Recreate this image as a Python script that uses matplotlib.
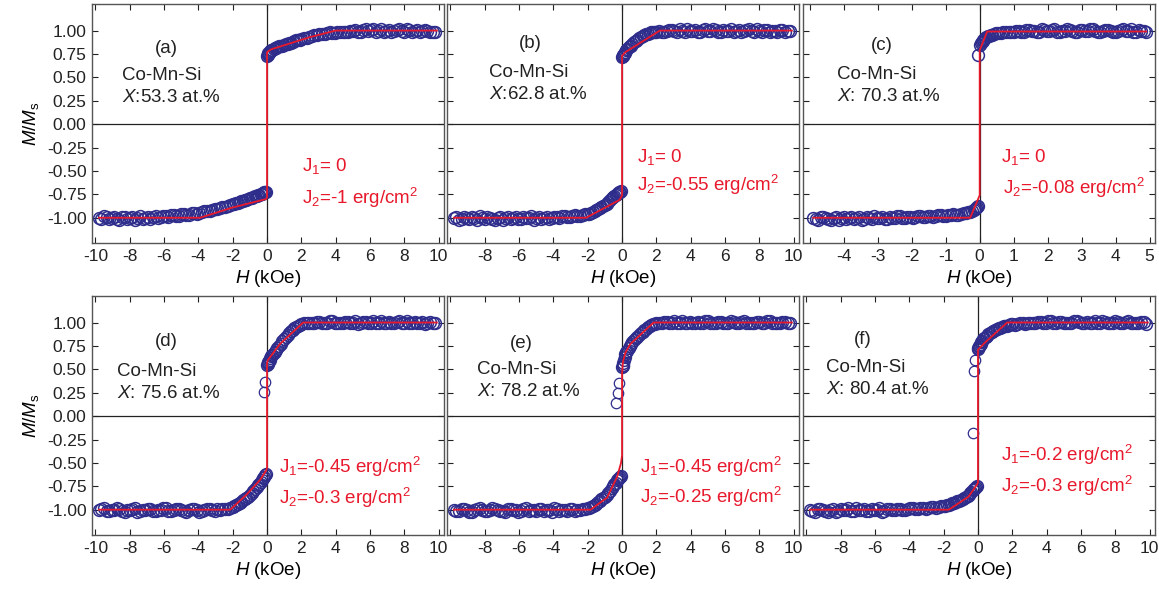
import matplotlib
matplotlib.use("Agg")
import matplotlib.pyplot as plt

plt.rcParams["font.family"] = ["Liberation Sans", "DejaVu Sans"]
plt.rcParams["mathtext.fontset"] = "custom"
plt.rcParams["mathtext.rm"] = "Liberation Sans"
plt.rcParams["mathtext.it"] = "Liberation Sans:italic"

DATA_COLOR = "#2E2D8C"
FIT_COLOR = "#E8192C"

# field points (kOe) of the +/-10 kOe scans, first and second pass
H_NEG = [-9.8, -9.5, -9.2, -8.9, -8.6, -8.3, -8.0, -7.7, -7.4, -7.1, -6.8, -6.5, -6.2,
         -5.9, -5.6, -5.3, -5.0, -4.7, -4.4, -4.1, -3.8, -3.5, -3.2, -2.9, -2.6, -2.3,
         -2.0, -1.8, -1.6, -1.4, -1.2, -1.0, -0.8, -0.6, -0.45, -0.3, -0.15, -0.05]
H_POS = [0.0, 0.05, 0.1, 0.2, 0.3, 0.45, 0.6, 0.8, 1.0, 1.2, 1.4, 1.6, 1.8, 2.0,
         2.3, 2.6, 2.9, 3.2, 3.5, 3.8, 4.1, 4.4, 4.7, 5.0, 5.3, 5.6, 5.9, 6.2, 6.5,
         6.8, 7.1, 7.4, 7.7, 8.0, 8.3, 8.6, 8.9, 9.2, 9.5, 9.8]
H_NEG2 = [-9.65, -9.35, -9.05, -8.75, -8.45, -8.15, -7.85, -7.55, -7.25, -6.95, -6.65,
          -6.35, -6.05, -5.75, -5.45, -5.15, -4.85, -4.55, -4.25, -3.95, -3.65, -3.35,
          -3.05, -2.75, -2.45, -2.15, -1.9, -1.7, -1.5, -1.3, -1.1, -0.9, -0.7, -0.52,
          -0.38, -0.22, -0.1]
H_POS2 = [0.03, 0.08, 0.15, 0.25, 0.38, 0.52, 0.7, 0.9, 1.1, 1.3, 1.5, 1.7, 1.9,
          2.15, 2.45, 2.75, 3.05, 3.35, 3.65, 3.95, 4.25, 4.55, 4.85, 5.15, 5.45, 5.75,
          6.05, 6.35, 6.65, 6.95, 7.25, 7.55, 7.85, 8.15, 8.45, 8.75, 9.05, 9.35, 9.65]

# field points (kOe) of the +/-5 kOe scan
HC_NEG = [-4.9, -4.75, -4.6, -4.45, -4.3, -4.15, -4.0, -3.85, -3.7, -3.55, -3.4, -3.25,
          -3.1, -2.95, -2.8, -2.65, -2.5, -2.35, -2.2, -2.05, -1.9, -1.75, -1.6, -1.45,
          -1.3, -1.15, -1.0, -0.85, -0.7, -0.55, -0.4, -0.28, -0.18, -0.1, -0.04]
HC_POS = [-0.06, 0.02, 0.06, 0.11, 0.17, 0.24, 0.32, 0.42, 0.55, 0.7, 0.85,
          1.0, 1.15, 1.3, 1.45, 1.6, 1.75, 1.9, 2.05, 2.2, 2.35, 2.5, 2.65, 2.8, 2.95,
          3.1, 3.25, 3.4, 3.55, 3.7, 3.85, 4.0, 4.15, 4.3, 4.45, 4.6, 4.75, 4.9]
HC_NEG2 = [-4.825, -4.675, -4.525, -4.375, -4.225, -4.075, -3.925, -3.775, -3.625,
           -3.475, -3.325, -3.175, -3.025, -2.875, -2.725, -2.575, -2.425, -2.275,
           -2.125, -1.975, -1.825, -1.675, -1.525, -1.375, -1.225, -1.075, -0.925,
           -0.775, -0.625, -0.475, -0.34, -0.23, -0.14, -0.07]
HC_POS2 = [0.04, 0.085, 0.14, 0.2, 0.28, 0.37, 0.48, 0.62, 0.78, 0.92,
           1.075, 1.225, 1.375, 1.525, 1.675, 1.825, 1.975, 2.125, 2.275, 2.425, 2.575,
           2.725, 2.875, 3.025, 3.175, 3.325, 3.475, 3.625, 3.775, 3.925, 4.075, 4.225,
           4.375, 4.525, 4.675, 4.825]

# (a) X = 53.3 at.%
A_NEG = [-1.00, -0.98, -1.01, -0.99, -1.02, -0.99, -1.00, -1.02, -0.98, -1.00, -1.01,
         -0.98, -0.99, -0.98, -0.97, -0.98, -0.96, -0.97, -0.95, -0.96, -0.94, -0.93,
         -0.92, -0.91, -0.89, -0.87, -0.85, -0.84, -0.83, -0.82, -0.81, -0.79, -0.78,
         -0.77, -0.76, -0.75, -0.73, -0.72]
A_POS = [0.73, 0.75, 0.76, 0.78, 0.79, 0.81, 0.82, 0.83, 0.85, 0.86, 0.87, 0.89, 0.90,
         0.91, 0.92, 0.94, 0.95, 0.96, 0.97, 0.97, 0.98, 0.98, 0.99, 1.00, 0.99, 1.01,
         1.00, 1.02, 1.00, 0.99, 1.01, 1.00, 1.02, 0.99, 1.01, 1.00, 0.99, 1.01, 0.99,
         0.98]
A_NEG2 = [-1.01, -0.99, -1.00, -1.01, -0.99, -1.01, -0.99, -1.00, -1.01, -0.99, -0.99,
          -1.00, -0.98, -0.99, -0.97, -0.98, -0.96, -0.97, -0.95, -0.95, -0.93, -0.93,
          -0.91, -0.90, -0.88, -0.86, -0.85, -0.84, -0.82, -0.81, -0.80, -0.79, -0.77,
          -0.76, -0.75, -0.74, -0.73]
A_POS2 = [0.74, 0.76, 0.77, 0.79, 0.80, 0.81, 0.83, 0.84, 0.86, 0.87, 0.88, 0.90, 0.90,
          0.92, 0.93, 0.95, 0.96, 0.96, 0.98, 0.97, 0.99, 0.98, 1.00, 1.01, 0.99, 1.02,
          1.01, 0.99, 1.02, 1.00, 0.99, 1.01, 1.00, 1.02, 0.99, 1.01, 1.00, 1.00, 0.99]
A_FIT_H = [-9.8, -3.9, -2.0, -0.05, 0.0, 0.0, 0.25, 2.5, 4.0, 9.9]
A_FIT_M = [-1.0, -1.0, -0.89, -0.80, -0.78, 0.77, 0.80, 0.93, 1.0, 1.0]

# (b) X = 62.8 at.%
B_NEG = [-1.00, -1.02, -0.99, -1.01, -1.00, -0.98, -1.01, -1.00, -1.02, -0.99, -1.00,
         -1.01, -0.99, -1.01, -1.00, -0.98, -1.00, -1.01, -0.99, -1.00, -0.99, -0.98,
         -0.99, -0.98, -0.98, -0.97, -0.96, -0.95, -0.93, -0.91, -0.89, -0.86, -0.83,
         -0.79, -0.77, -0.75, -0.73, -0.71]
B_POS = [0.72, 0.73, 0.75, 0.77, 0.80, 0.83, 0.86, 0.89, 0.92, 0.94, 0.96, 0.97, 0.98,
         0.99, 0.99, 1.00, 1.01, 0.99, 1.00, 1.02, 1.00, 0.99, 1.01, 1.00, 1.02, 0.99,
         1.01, 1.00, 0.99, 1.01, 1.00, 1.02, 0.99, 1.00, 1.01, 0.99, 1.00, 1.01, 0.99,
         1.00]
B_NEG2 = [-0.99, -1.01, -1.00, -0.99, -1.02, -1.00, -0.99, -1.01, -1.00, -1.02, -0.99,
          -1.00, -1.01, -0.99, -1.00, -1.02, -0.99, -1.00, -1.01, -0.99, -1.00, -0.98,
          -0.99, -0.97, -0.98, -0.96, -0.96, -0.94, -0.92, -0.90, -0.87, -0.85, -0.81,
          -0.78, -0.76, -0.74, -0.72]
B_POS2 = [0.73, 0.74, 0.76, 0.79, 0.82, 0.84, 0.88, 0.90, 0.93, 0.95, 0.96, 0.98, 0.98,
          1.00, 0.99, 1.01, 1.00, 1.02, 0.99, 1.00, 1.01, 0.99, 1.02, 1.00, 1.01, 0.99,
          1.00, 1.02, 1.00, 0.99, 1.01, 1.00, 1.02, 0.99, 1.01, 1.00, 0.99, 1.01, 1.00]
B_FIT_H = [-9.8, -2.1, -0.15, 0.0, 0.0, 0.2, 2.2, 9.9]
B_FIT_M = [-1.0, -1.0, -0.81, -0.76, 0.73, 0.77, 1.0, 1.0]

# (c) X = 70.3 at.%
C_NEG = [-1.00, -1.02, -0.99, -1.01, -1.00, -1.02, -0.99, -1.00, -1.01, -0.99, -1.01,
         -1.00, -0.98, -1.00, -1.01, -0.99, -1.00, -0.98, -1.00, -0.99, -0.99, -0.98,
         -0.99, -0.98, -0.98, -0.97, -0.98, -0.97, -0.97, -0.96, -0.95, -0.94, -0.92,
         -0.90, -0.87]
C_POS = [0.74, 0.85, 0.88, 0.90, 0.92, 0.94, 0.95, 0.96, 0.97, 0.98, 0.98, 0.99, 1.00,
         0.99, 1.01, 1.00, 0.99, 1.01, 1.00, 1.02, 0.99, 1.00, 1.01, 0.99, 1.01, 1.00,
         1.02, 1.00, 0.99, 1.01, 1.00, 0.99, 1.01, 1.00, 1.02, 0.99, 1.00, 0.99]
C_NEG2 = [-1.01, -0.99, -1.00, -1.02, -0.99, -1.00, -1.01, -0.99, -1.00, -1.02, -0.99,
          -1.01, -1.00, -0.99, -1.01, -1.00, -0.98, -1.00, -0.99, -1.00, -0.98, -0.99,
          -0.98, -0.99, -0.97, -0.98, -0.97, -0.96, -0.97, -0.95, -0.94, -0.93, -0.91,
          -0.89]
C_POS2 = [0.87, 0.89, 0.91, 0.93, 0.94, 0.95, 0.97, 0.97, 0.98, 0.99, 1.00, 0.99, 1.01,
          1.00, 0.99, 1.02, 1.00, 1.01, 0.99, 1.00, 1.02, 1.00, 0.99, 1.01, 1.00, 1.02,
          0.99, 1.00, 1.01, 0.99, 1.00, 1.02, 1.00, 0.99, 1.01, 1.00]
C_FIT_H = [-4.9, -0.28, 0.0, 0.0, 0.22, 4.9]
C_FIT_M = [-1.0, -1.0, -0.76, 0.79, 0.99, 0.99]

# (d) X = 75.6 at.%
D_NEG = [-1.00, -0.98, -1.01, -1.00, -0.99, -1.02, -1.00, -0.98, -1.01, -1.00, -0.99,
         -1.01, -1.00, -0.98, -1.01, -0.99, -1.00, -1.02, -0.99, -1.00, -1.01, -0.99,
         -1.00, -0.99, -0.99, -0.99, -0.97, -0.95, -0.93, -0.90, -0.87, -0.84, -0.80,
         -0.76, -0.72, -0.68, -0.65, -0.62]
D_POS = [0.55, 0.57, 0.59, 0.62, 0.65, 0.69, 0.73, 0.77, 0.82, 0.87, 0.91, 0.94, 0.96,
         0.98, 0.99, 1.00, 1.01, 0.99, 1.00, 1.02, 1.00, 0.99, 1.01, 1.00, 0.98, 1.01,
         1.00, 1.02, 0.99, 1.00, 1.01, 0.99, 1.02, 1.00, 0.99, 1.01, 1.00, 0.98, 1.01,
         0.99]
D_NEG2 = [-0.99, -1.01, -1.00, -0.98, -1.01, -1.00, -0.99, -1.02, -1.00, -0.99, -1.01,
          -1.00, -0.98, -1.01, -1.00, -0.99, -1.01, -1.00, -0.99, -1.02, -1.00, -0.99,
          -1.01, -1.00, -0.99, -0.98, -0.96, -0.94, -0.92, -0.89, -0.86, -0.82, -0.78,
          -0.74, -0.70, -0.66, -0.63]
D_POS2 = [0.56, 0.58, 0.60, 0.64, 0.67, 0.71, 0.75, 0.80, 0.85, 0.89, 0.92, 0.95, 0.97,
          0.99, 1.00, 0.99, 1.01, 1.00, 1.02, 0.99, 1.00, 1.01, 0.99, 1.02, 1.00, 1.01,
          0.99, 1.00, 1.02, 1.00, 0.99, 1.01, 1.00, 1.02, 0.99, 1.00, 1.01, 0.99, 1.00]
D_OUT_H = [-0.12, -0.2]
D_OUT_M = [0.36, 0.26]
D_FIT_H = [-9.8, -2.15, -1.2, -0.4, -0.05, 0.0, 0.0, 0.05, 0.75, 2.1, 9.9]
D_FIT_M = [-1.0, -1.0, -0.84, -0.68, -0.58, -0.55, 0.57, 0.60, 0.77, 1.0, 1.0]

# (e) X = 78.2 at.%
E_NEG = [-1.00, -1.01, -0.99, -1.02, -1.00, -0.98, -1.01, -1.00, -0.99, -1.01, -1.02,
         -0.99, -1.00, -1.01, -0.98, -1.00, -1.01, -0.99, -1.00, -1.02, -0.99, -1.00,
         -1.01, -0.99, -1.00, -0.99, -0.98, -0.97, -0.95, -0.92, -0.89, -0.86, -0.82,
         -0.77, -0.73, -0.68, -0.66, -0.64]
E_POS = [0.52, 0.55, 0.60, 0.66, 0.70, 0.75, 0.79, 0.83, 0.87, 0.90, 0.93, 0.96, 0.98,
         0.99, 1.00, 1.01, 0.99, 1.00, 1.02, 1.00, 0.99, 1.01, 1.00, 1.02, 0.99, 1.01,
         1.00, 0.99, 1.01, 1.00, 1.02, 0.99, 1.00, 1.01, 0.99, 1.02, 1.00, 0.99, 1.01,
         1.00]
E_NEG2 = [-1.01, -0.99, -1.00, -1.02, -0.99, -1.00, -1.01, -0.98, -1.00, -1.01, -0.99,
          -1.00, -1.02, -0.99, -1.01, -1.00, -0.99, -1.01, -1.00, -0.98, -1.01, -1.00,
          -0.99, -1.01, -1.00, -0.99, -0.98, -0.96, -0.94, -0.91, -0.88, -0.84, -0.80,
          -0.75, -0.71, -0.67, -0.65]
E_POS2 = [0.54, 0.57, 0.63, 0.68, 0.73, 0.77, 0.81, 0.85, 0.89, 0.92, 0.95, 0.97, 0.98,
          0.99, 1.01, 1.00, 1.02, 0.99, 1.00, 1.01, 0.99, 1.00, 1.02, 1.00, 0.99, 1.01,
          1.00, 1.02, 0.99, 1.01, 1.00, 0.99, 1.01, 1.00, 1.02, 1.00, 0.99, 1.01, 1.00]
E_OUT_H = [-0.33, -0.25, -0.18]
E_OUT_M = [0.14, 0.25, 0.35]
E_FIT_H = [-9.8, -1.84, -0.87, -0.29, -0.06, 0.0, 0.0, 0.05, 0.2, 0.48, 1.84, 9.9]
E_FIT_M = [-1.0, -1.0, -0.87, -0.65, -0.50, -0.42, 0.45, 0.58, 0.68, 0.77, 1.0, 1.0]

# (f) X = 80.4 at.%
F_NEG = [-1.00, -1.02, -0.99, -1.01, -1.00, -1.02, -0.99, -1.00, -1.01, -0.98, -1.00,
         -1.01, -0.99, -1.00, -1.02, -0.99, -1.00, -0.99, -1.00, -0.99, -0.98, -0.99,
         -0.98, -0.98, -0.97, -0.97, -0.96, -0.95, -0.94, -0.93, -0.91, -0.90, -0.88,
         -0.85, -0.82, -0.79, -0.77, -0.75]
F_POS = [0.72, 0.74, 0.76, 0.79, 0.82, 0.85, 0.88, 0.90, 0.92, 0.94, 0.95, 0.96, 0.97,
         0.98, 0.98, 0.99, 0.99, 1.00, 1.01, 0.99, 1.02, 1.00, 1.01, 0.99, 1.00, 1.02,
         1.01, 0.99, 1.00, 1.02, 1.00, 1.01, 0.99, 1.02, 1.00, 1.01, 0.99, 1.00, 1.01,
         0.98]
F_NEG2 = [-1.01, -0.99, -1.00, -1.02, -0.99, -1.01, -1.00, -0.98, -1.01, -1.00, -0.99,
          -1.01, -1.00, -0.98, -1.01, -0.99, -1.00, -0.99, -1.00, -0.98, -0.99, -0.98,
          -0.99, -0.97, -0.98, -0.96, -0.96, -0.95, -0.93, -0.92, -0.91, -0.89, -0.86,
          -0.84, -0.81, -0.78, -0.76]
F_POS2 = [0.73, 0.75, 0.77, 0.80, 0.84, 0.86, 0.89, 0.91, 0.93, 0.94, 0.96, 0.96, 0.98,
          0.97, 0.99, 0.98, 1.00, 0.99, 1.01, 1.00, 1.02, 0.99, 1.01, 1.00, 0.99, 1.02,
          1.00, 1.01, 0.99, 1.00, 1.02, 1.00, 0.99, 1.01, 1.00, 1.02, 0.99, 1.00, 1.01]
F_OUT_H = [-0.16, -0.25, -0.31]
F_OUT_M = [0.60, 0.48, -0.18]
F_FIT_H = [-9.8, -1.7, -0.55, -0.05, 0.0, 0.0, 0.43, 1.7, 9.9]
F_FIT_M = [-1.0, -1.0, -0.86, -0.73, -0.71, 0.71, 0.79, 1.0, 1.0]

LETTERS = ["(a)", "(b)", "(c)", "(d)", "(e)", "(f)"]
COMPOSITIONS = [r"$X$:53.3 at.%", r"$X$:62.8 at.%", r"$X$: 70.3 at.%",
                r"$X$: 75.6 at.%", r"$X$: 78.2 at.%", r"$X$: 80.4 at.%"]
J1_LABELS = [r"J$_1$= 0", r"J$_1$= 0", r"J$_1$= 0",
             r"J$_1$=-0.45 erg/cm$^2$", r"J$_1$=-0.45 erg/cm$^2$", r"J$_1$=-0.2 erg/cm$^2$"]
J2_LABELS = [r"J$_2$=-1 erg/cm$^2$", r"J$_2$=-0.55 erg/cm$^2$", r"J$_2$=-0.08 erg/cm$^2$",
             r"J$_2$=-0.3 erg/cm$^2$", r"J$_2$=-0.25 erg/cm$^2$", r"J$_2$=-0.3 erg/cm$^2$"]

wide = H_NEG + H_POS
wide2 = H_NEG2 + H_POS2
panels = [
    dict(sweeps=[(wide, A_NEG + A_POS), (wide2, A_NEG2 + A_POS2)],
         out=([], []), fit=(A_FIT_H, A_FIT_M)),
    dict(sweeps=[(wide, B_NEG + B_POS), (wide2, B_NEG2 + B_POS2)],
         out=([], []), fit=(B_FIT_H, B_FIT_M)),
    dict(sweeps=[(HC_NEG + HC_POS, C_NEG + C_POS), (HC_NEG2 + HC_POS2, C_NEG2 + C_POS2)],
         out=([], []), fit=(C_FIT_H, C_FIT_M)),
    dict(sweeps=[(wide, D_NEG + D_POS), (wide2, D_NEG2 + D_POS2)],
         out=(D_OUT_H, D_OUT_M), fit=(D_FIT_H, D_FIT_M)),
    dict(sweeps=[(wide, E_NEG + E_POS), (wide2, E_NEG2 + E_POS2)],
         out=(E_OUT_H, E_OUT_M), fit=(E_FIT_H, E_FIT_M)),
    dict(sweeps=[(wide, F_NEG + F_POS), (wide2, F_NEG2 + F_POS2)],
         out=(F_OUT_H, F_OUT_M), fit=(F_FIT_H, F_FIT_M)),
]

# text anchor positions in axes fractions: letter, composition block, J1, J2
text_pos = [
    dict(letter=(0.212, 0.816), comp=(0.085, 0.703), j1=(0.597, 0.323), j2=(0.597, 0.188)),
    dict(letter=(0.236, 0.835), comp=(0.119, 0.713), j1=(0.540, 0.361), j2=(0.540, 0.243)),
    dict(letter=(0.223, 0.828), comp=(0.098, 0.705), j1=(0.563, 0.361), j2=(0.568, 0.229)),
    dict(letter=(0.212, 0.811), comp=(0.072, 0.685), j1=(0.532, 0.287), j2=(0.532, 0.154)),
    dict(letter=(0.211, 0.804), comp=(0.084, 0.692), j1=(0.550, 0.287), j2=(0.550, 0.161)),
    dict(letter=(0.171, 0.818), comp=(0.066, 0.700), j1=(0.562, 0.336), j2=(0.562, 0.204)),
]

fig = plt.figure(figsize=(11.59, 5.89), dpi=100)
lefts = [0.0794, 0.3857, 0.6928]
bottoms = [0.5874, 0.0917]
width, height = 0.3035, 0.4052

for idx, p in enumerate(panels):
    row, col = divmod(idx, 3)
    ax = fig.add_axes([lefts[col], bottoms[row], width, height])
    narrow = idx == 2

    ax.axhline(0, color="#222222", lw=0.9, zorder=1)
    ax.axvline(0, color="#222222", lw=0.9, zorder=1)

    for h, m in p["sweeps"]:
        ax.plot(h, m, "o", ms=8.5, mfc="none", mec=DATA_COLOR, mew=1.1, zorder=2)
    if p["out"][0]:
        ax.plot(p["out"][0], p["out"][1], "o", ms=7.5, mfc="none", mec=DATA_COLOR,
                mew=0.9, zorder=2)
    ax.plot(p["fit"][0], p["fit"][1], color=FIT_COLOR, lw=1.3, zorder=3)

    ax.set_ylim(-1.27, 1.28)
    ax.set_yticks([-1.0, -0.75, -0.5, -0.25, 0.0, 0.25, 0.5, 0.75, 1.0])
    if narrow:
        ax.set_xlim(-5.2, 5.15)
        xt = list(range(-5, 6))
    else:
        ax.set_xlim(-10.2, 10.3)
        xt = list(range(-10, 11, 2))
    ax.set_xticks(xt)
    # first column keeps every label; others drop the leftmost one
    xlabels = [str(v) for v in xt]
    if col > 0:
        xlabels[0] = ""
    ax.set_xticklabels(xlabels)

    ax.tick_params(direction="in", top=True, right=True, length=4.5, width=0.8,
                   labelsize=12.5, pad=4, colors="#222222")
    if col == 0:
        ax.set_yticklabels(["%.2f" % v for v in ax.get_yticks()])
        ax.set_ylabel(r"$M$/$M_{\rm s}$", fontsize=13.5, labelpad=4)
    else:
        ax.set_yticklabels([])
    ax.set_xlabel(r"$H$ (kOe)", fontsize=13.5, labelpad=3)

    for s in ax.spines.values():
        s.set_color("#555555")
        s.set_linewidth(1.0)

    tp = text_pos[idx]
    ax.text(*tp["letter"], LETTERS[idx], transform=ax.transAxes, fontsize=13.5,
            ha="center", va="center", color="#222222")
    ax.text(tp["comp"][0], tp["comp"][1], "Co-Mn-Si", transform=ax.transAxes,
            fontsize=13.5, ha="left", va="center", color="#222222")
    ax.text(tp["comp"][0], tp["comp"][1] - 0.092, COMPOSITIONS[idx], transform=ax.transAxes,
            fontsize=13.5, ha="left", va="center", color="#222222")
    ax.text(*tp["j1"], J1_LABELS[idx], transform=ax.transAxes, fontsize=13.5,
            ha="left", va="center", color=FIT_COLOR)
    ax.text(*tp["j2"], J2_LABELS[idx], transform=ax.transAxes, fontsize=13.5,
            ha="left", va="center", color=FIT_COLOR)

fig.savefig("out.png", dpi=100)
